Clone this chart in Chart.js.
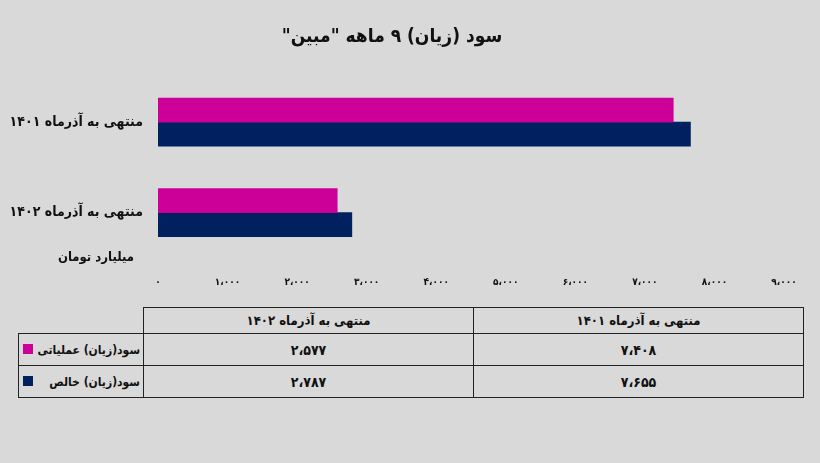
<!DOCTYPE html>
<html>
<head>
<meta charset="utf-8">
<script src="https://cdn.jsdelivr.net/npm/chart.js@4/dist/chart.umd.min.js"></script>
<style>
  body { margin: 0; background: #d9d9d9; width: 820px; height: 463px; overflow: hidden; font-family: 'DejaVu Sans Condensed', 'DejaVu Sans', sans-serif; }
  #wrap { position: absolute; left: 0; top: 0; width: 820px; height: 298px; }
  #tbl { position: absolute; left: 18px; top: 307px; width: 785px; border-collapse: collapse; table-layout: fixed; font-weight: bold; font-size: 13px; color: #111; }
  #tbl td { border: 1px solid #222; text-align: center; direction: rtl; padding: 0 4px; white-space: nowrap; }
  #tbl tr.head td { height: 25px; }
  #tbl tr.row td { height: 31px; font-size: 14px; }
  #tbl td.blank { border: none; border-right: 1px solid #222; }
  #tbl tr.row td.lbl { text-align: right; position: relative; font-size: 12px; padding-right: 3px; }
  .mark { position: absolute; left: 4px; top: 10px; width: 10px; height: 10px; }
</style>
</head>
<body>
<div id="wrap"><canvas id="profitChart" dir="rtl"></canvas></div>
<table id="tbl"></table>
<script>
const categories = ['منتهی به آذرماه ۱۴۰۱', 'منتهی به آذرماه ۱۴۰۲'];
const seriesNames = ['سود(زیان) عملیاتی', 'سود(زیان) خالص'];
const operatingProfit = [7408, 2577];
const netProfit = [7655, 2787];
const seriesColors = ['#cc0099', '#002060'];
const unitLabel = 'میلیارد تومان';
const titleText = 'سود (زیان) ۹ ماهه "مبین"';

const faDigits = '۰۱۲۳۴۵۶۷۸۹';
function toFa(n) {
  return n.toLocaleString('en-US').replace(/,/g, '،').replace(/\d/g, d => faDigits[d]);
}

const ctx = document.getElementById('profitChart').getContext('2d');
const fontFamily = "'DejaVu Sans Condensed', 'DejaVu Sans', sans-serif";

// unit label under the category labels
const unitPlugin = {
  id: 'unitLabel',
  afterDraw(chart) {
    const c = chart.ctx;
    const ys = chart.scales.y;
    c.save();
    c.font = 'bold 13px ' + fontFamily;
    c.fillStyle = '#111';
    c.textAlign = 'right';
    c.textBaseline = 'middle';
    c.fillText(unitLabel, ys.right - 24, chart.chartArea.bottom);
    c.restore();
  }
};

new Chart(ctx, {
  type: 'bar',
  plugins: [unitPlugin],
  data: {
    labels: categories,
    datasets: [
      { label: seriesNames[0], data: operatingProfit, backgroundColor: seriesColors[0], barThickness: 24 },
      { label: seriesNames[1], data: netProfit, backgroundColor: seriesColors[1], barThickness: 24 }
    ]
  },
  options: {
    indexAxis: 'y',
    responsive: true,
    maintainAspectRatio: false,
    animation: false,
    layout: { padding: { left: 0, right: 36, top: 0, bottom: 0 } },
    scales: {
      x: {
        min: 0,
        max: 9000,
        grid: { display: false, drawTicks: false },
        border: { display: false },
        ticks: {
          stepSize: 1000,
          padding: 18,
          color: '#111',
          font: { family: fontFamily, size: 10, weight: 'bold' },
          callback: v => toFa(v)
        },
        afterFit: s => { s.height = 40; }
      },
      y: {
        grid: { display: false, drawTicks: false },
        border: { display: false },
        ticks: {
          padding: 15,
          color: '#111',
          font: { family: fontFamily, size: 14, weight: 'bold' }
        },
        afterFit: s => { s.width = 158; }
      }
    },
    plugins: {
      legend: { display: false },
      tooltip: { enabled: false },
      title: {
        display: true,
        text: titleText,
        color: '#111',
        font: { family: fontFamily, size: 19, weight: 'bold' },
        padding: { top: 26, bottom: 28 }
      }
    }
  }
});

// data table under the chart, columns shown right-to-left
const tbl = document.getElementById('tbl');
const colOrder = categories.map((_, i) => i).reverse();
let html = '<colgroup><col style="width:125px"><col style="width:330px"><col style="width:330px"></colgroup>';
html += '<tr class="head"><td class="blank"></td>' + colOrder.map(i => '<td>' + categories[i] + '</td>').join('') + '</tr>';
[operatingProfit, netProfit].forEach((vals, s) => {
  html += '<tr class="row"><td class="lbl"><span class="mark" style="background:' + seriesColors[s] + '"></span>' + seriesNames[s] + '</td>' +
    colOrder.map(i => '<td>' + toFa(vals[i]) + '</td>').join('') + '</tr>';
});
tbl.innerHTML = html;
</script>
</body>
</html>
